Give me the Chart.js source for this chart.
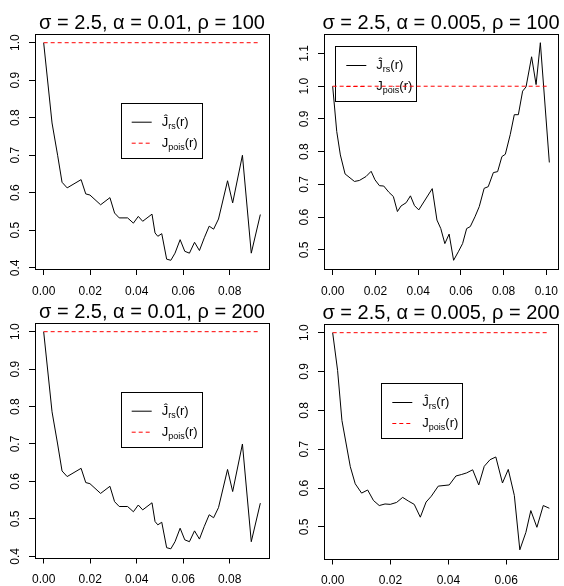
<!DOCTYPE html>
<html><head><meta charset="utf-8">
<script src="https://cdn.jsdelivr.net/npm/chart.js@4/dist/chart.umd.min.js"></script>
<style>
html,body{margin:0;padding:0;background:#fff;width:564px;height:586px;overflow:hidden}
.p{position:absolute}
</style></head><body>
<div class="p" style="left:0;top:293px"><canvas id="c3" width="282" height="293"></canvas></div>
<div class="p" style="left:282px;top:293px"><canvas id="c4" width="282" height="293"></canvas></div>
<div class="p" style="left:0;top:0"><canvas id="c1" width="282" height="300"></canvas></div>
<div class="p" style="left:282px;top:0"><canvas id="c2" width="282" height="300"></canvas></div>
<script>
// ---- data ----
const titles = ['σ = 2.5, α = 0.01, ρ = 100', 'σ = 2.5, α = 0.005, ρ = 100', 'σ = 2.5, α = 0.01, ρ = 200', 'σ = 2.5, α = 0.005, ρ = 200'];
const legendLabels = [['Ĵ', 'rs', '(r)'], ['J', 'pois', '(r)']];

// alpha = 0.01 (rho = 100 and rho = 200 show the same curve)
const rA = [0, 0.0036, 0.0060, 0.0079, 0.0101, 0.0161, 0.0181, 0.0199, 0.0245, 0.0285, 0.0305, 0.0325, 0.0361, 0.0386, 0.0407, 0.0426, 0.0466, 0.0479, 0.0491, 0.0508, 0.0529, 0.0547, 0.0565, 0.0587, 0.0607, 0.0627, 0.0649, 0.0670, 0.0691, 0.0712, 0.0731, 0.0752, 0.0791, 0.0813, 0.0855, 0.0893, 0.0932];
const jA = [1.0, 0.786, 0.700, 0.628, 0.613, 0.635, 0.597, 0.594, 0.568, 0.587, 0.546, 0.533, 0.533, 0.519, 0.537, 0.524, 0.543, 0.493, 0.484, 0.491, 0.423, 0.420, 0.439, 0.475, 0.444, 0.439, 0.468, 0.446, 0.480, 0.511, 0.503, 0.530, 0.632, 0.573, 0.700, 0.439, 0.542];

// alpha = 0.005, rho = 100
const rB = [0, 0.0019, 0.0036, 0.0058, 0.0102, 0.0125, 0.0156, 0.0180, 0.0198, 0.0219, 0.0239, 0.0263, 0.0284, 0.0303, 0.0320, 0.0344, 0.0364, 0.0383, 0.0403, 0.0466, 0.0488, 0.0506, 0.0525, 0.0545, 0.0566, 0.0588, 0.0608, 0.0627, 0.0644, 0.0666, 0.0686, 0.0709, 0.0728, 0.0752, 0.0772, 0.0792, 0.0808, 0.0831, 0.0850, 0.0869, 0.0889, 0.0905, 0.0931, 0.0952, 0.0972, 0.1014];
const jB = [1.0, 0.862, 0.790, 0.732, 0.709, 0.712, 0.724, 0.740, 0.714, 0.696, 0.695, 0.676, 0.663, 0.617, 0.634, 0.644, 0.665, 0.635, 0.622, 0.687, 0.591, 0.565, 0.519, 0.548, 0.468, 0.494, 0.519, 0.565, 0.571, 0.601, 0.632, 0.688, 0.693, 0.736, 0.739, 0.785, 0.792, 0.852, 0.913, 0.913, 0.985, 0.998, 1.090, 1.005, 1.133, 0.767];

// alpha = 0.005, rho = 200
const rD = [0, 0.0017, 0.0032, 0.0061, 0.0078, 0.0100, 0.0121, 0.0141, 0.0161, 0.0181, 0.0199, 0.0221, 0.0242, 0.0263, 0.0282, 0.0303, 0.0323, 0.0341, 0.0365, 0.0403, 0.0426, 0.0446, 0.0463, 0.0484, 0.0505, 0.0524, 0.0544, 0.0564, 0.0587, 0.0607, 0.0628, 0.0647, 0.0668, 0.0685, 0.0706, 0.0728, 0.0749];
const jD = [1.0, 0.903, 0.774, 0.655, 0.611, 0.587, 0.595, 0.568, 0.555, 0.559, 0.558, 0.563, 0.576, 0.566, 0.558, 0.525, 0.564, 0.579, 0.605, 0.608, 0.631, 0.635, 0.639, 0.647, 0.608, 0.656, 0.673, 0.680, 0.613, 0.648, 0.581, 0.441, 0.486, 0.542, 0.499, 0.555, 0.548];

// theoretical Poisson value
const poisJ = [1, 1];

// tick values
const xTicksA = [0, 0.02, 0.04, 0.06, 0.08];
const xTicksB = [0, 0.02, 0.04, 0.06, 0.08, 0.10];
const xTicksD = [0, 0.02, 0.04, 0.06];
const yTicksA = [0.4, 0.5, 0.6, 0.7, 0.8, 0.9, 1.0];
const yTicksB = [0.5, 0.6, 0.7, 0.8, 0.9, 1.0, 1.1];
const yTicksD = [0.5, 0.6, 0.7, 0.8, 0.9, 1.0];

// ---- drawing ----
const FONT = '"Liberation Sans", Arial, Helvetica, sans-serif';
Chart.defaults.font.family = FONT;
Chart.defaults.font.size = 12;
Chart.defaults.color = '#000';

function rangeOf(vals) {
  const mn = Math.min(...vals), mx = Math.max(...vals), e = (mx - mn) * 0.04;
  return [mn - e, mx + e];
}

function drawLegend(ctx, x, y) {
  ctx.save();
  ctx.fillStyle = '#fff';
  ctx.fillRect(x, y, 81, 55);
  ctx.strokeStyle = '#000'; ctx.lineWidth = 1;
  ctx.strokeRect(Math.round(x) + 0.5, Math.round(y) + 0.5, 81, 55);
  const rows = [y + 19.5, y + 40.5];
  ctx.beginPath(); ctx.moveTo(x + 11, rows[0]); ctx.lineTo(x + 31, rows[0]); ctx.strokeStyle = '#000'; ctx.stroke();
  ctx.setLineDash([4, 3]); ctx.strokeStyle = '#ff0000';
  ctx.beginPath(); ctx.moveTo(x + 11, rows[1]); ctx.lineTo(x + 31, rows[1]); ctx.stroke();
  ctx.setLineDash([]);
  ctx.fillStyle = '#000'; ctx.textBaseline = 'alphabetic'; ctx.textAlign = 'left';
  legendLabels.forEach((parts, i) => {
    let tx = x + 41; const by = rows[i] + 3.6;
    ctx.font = '13px ' + FONT; ctx.fillText(parts[0], tx, by); tx += ctx.measureText(parts[0]).width;
    ctx.font = '9px ' + FONT; ctx.fillText(parts[1], tx, by + 3); tx += ctx.measureText(parts[1]).width;
    ctx.font = '13px ' + FONT; ctx.fillText(parts[2], tx, by);
  });
  ctx.restore();
}

const rPlot = {
  id: 'rPlot',
  beforeDatasetsDraw(chart) {
    const o = chart.options.plugins.rPlot;
    drawLegend(chart.ctx, o.legend[0], o.legend[1]);
  },
  afterDraw(chart) {
    const o = chart.options.plugins.rPlot;
    const ctx = chart.ctx, a = chart.chartArea;
    ctx.save();
    ctx.strokeStyle = '#000'; ctx.lineWidth = 1;
    ctx.strokeRect(Math.round(a.left) + 0.5, Math.round(a.top) + 0.5, Math.round(a.right - a.left), Math.round(a.bottom - a.top));
    ctx.fillStyle = '#000'; ctx.font = '20px ' + FONT; ctx.textAlign = 'center'; ctx.textBaseline = 'alphabetic';
    ctx.fillText(o.title, (a.left + a.right) / 2, a.top - 5.5);
    ctx.restore();
  }
};

function makeChart(id, title, r, j, xTicks, yTicks, dec, box, legendPos) {
  const canvas = document.getElementById(id);
  const W = canvas.width, H = canvas.height;
  const [xmin, xmax] = rangeOf(r);
  const [ymin, ymax] = rangeOf(j.concat(poisJ));
  const pois = [r[0], r[r.length - 1]];
  new Chart(canvas, {
    type: 'scatter',
    data: {
      datasets: [
        { data: pois.map((x, i) => ({ x, y: poisJ[i] })), showLine: true, borderColor: '#ff0000', borderWidth: 1, borderDash: [4, 3], pointRadius: 0 },
        { data: r.map((x, i) => ({ x, y: j[i] })), showLine: true, borderColor: '#000', borderWidth: 1, pointRadius: 0, tension: 0 }
      ]
    },
    options: {
      responsive: false, animation: false, devicePixelRatio: 1,
      layout: { padding: { top: box.top, right: W - box.right, left: 0, bottom: 0 } },
      plugins: { legend: { display: false }, tooltip: { enabled: false }, title: { display: false },
        rPlot: { title, legend: legendPos } },
      scales: {
        x: {
          type: 'linear', min: xmin, max: xmax,
          border: { display: false },
          grid: { drawOnChartArea: false, drawTicks: true, tickLength: 6, color: '#000', lineWidth: 1 },
          ticks: { padding: 9, maxRotation: 0, minRotation: 0, font: { size: 12 }, color: '#000',
            callback: v => v.toFixed(dec[0]) },
          afterBuildTicks: s => { s.ticks = xTicks.map(v => ({ value: v })); },
          afterFit: s => { s.height = H - box.bottom; s.paddingLeft = 0; s.paddingRight = 0; }
        },
        y: {
          type: 'linear', min: ymin, max: ymax,
          border: { display: false },
          grid: { drawOnChartArea: false, drawTicks: true, tickLength: 6, color: '#000', lineWidth: 1 },
          ticks: { padding: 5, minRotation: 90, maxRotation: 90, crossAlign: 'center', font: { size: 12 }, color: '#000',
            callback: v => v.toFixed(dec[1]) },
          afterBuildTicks: s => { s.ticks = yTicks.map(v => ({ value: v })); },
          afterFit: s => { s.width = box.left; s.paddingTop = 0; s.paddingBottom = 0; }
        }
      }
    },
    plugins: [rPlot]
  });
}

makeChart('c1', titles[0], rA, jA, xTicksA, yTicksA, [2, 1], { left: 35, right: 269, top: 34, bottom: 269 }, [120.7, 102.7]);
makeChart('c2', titles[1], rB, jB, xTicksB, yTicksB, [2, 1], { left: 42, right: 276, top: 34, bottom: 269 }, [53.3, 46]);
makeChart('c3', titles[2], rA, jA, xTicksA, yTicksA, [2, 1], { left: 35, right: 269, top: 30, bottom: 264.5 }, [120.7, 98.7]);
makeChart('c4', titles[3], rD, jD, xTicksD, yTicksD, [2, 1], { left: 42, right: 276, top: 31, bottom: 265.5 }, [99.3, 90]);
</script>
</body></html>
